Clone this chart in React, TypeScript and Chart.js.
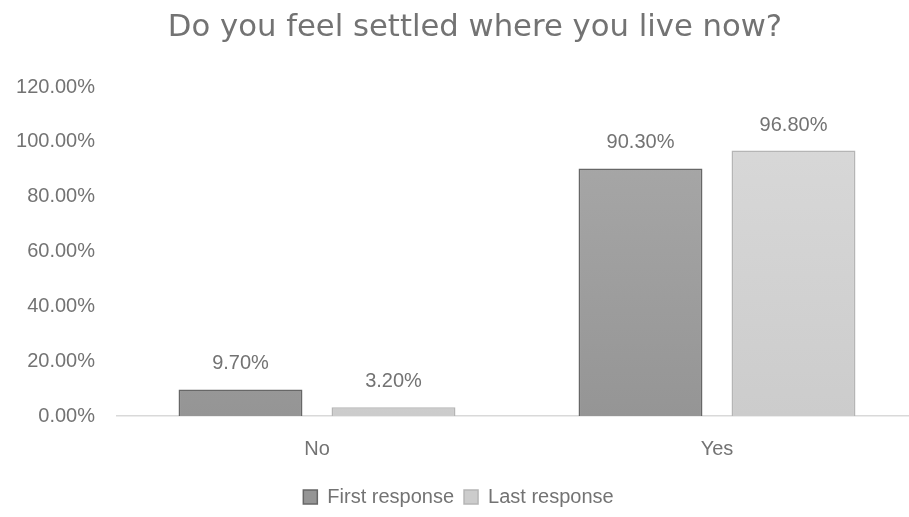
import React, { useEffect, useRef } from "react";
import { Chart, registerables } from "chart.js";

Chart.register(...registerables);

const categories = ["No", "Yes"];
const firstResponse = [9.7, 90.3];
const lastResponse = [3.2, 96.8];
const seriesNames = ["First response", "Last response"];
const titleText = "Do you feel settled where you live now?";
const yMax = 120;
const yStep = 20;

const FONT = "'Liberation Sans', Arial, sans-serif";
const TITLE_FONT = "'DejaVu Sans', sans-serif";
const TXT = "#737373";

const labelPlugin = {
  id: "barLabels",
  afterDatasetsDraw(chart: any) {
    const ctx = chart.ctx;
    ctx.save();
    ctx.font = `20px ${FONT}`;
    ctx.fillStyle = TXT;
    ctx.textAlign = "center";
    ctx.textBaseline = "alphabetic";
    chart.data.datasets.forEach((ds: any, i: number) => {
      const meta = chart.getDatasetMeta(i);
      meta.data.forEach((bar: any, j: number) => {
        ctx.fillText(ds.data[j].toFixed(2) + "%", bar.x, bar.y - 20);
      });
    });
    ctx.restore();
  },
};

// Title centred on the whole (uncropped) chart width
const titlePlugin = {
  id: "centredTitle",
  afterDraw(chart: any) {
    const ctx = chart.ctx;
    ctx.save();
    ctx.font = `30.7px ${TITLE_FONT}`;
    ctx.fillStyle = TXT;
    ctx.textAlign = "center";
    ctx.textBaseline = "alphabetic";
    ctx.fillText(titleText, chart.width / 2, 36);
    ctx.restore();
  },
};

function grad(chart: any, top: string, bottom: string) {
  const area = chart.chartArea;
  if (!area) return top;
  const g = chart.ctx.createLinearGradient(0, area.top, 0, area.bottom);
  g.addColorStop(0, top);
  g.addColorStop(1, bottom);
  return g;
}

export default function App() {
  const ref = useRef<HTMLCanvasElement>(null);
  useEffect(() => {
    const chart = new Chart(ref.current!, {
      type: "bar",
      data: {
        labels: categories,
        datasets: [
          {
            label: seriesNames[0],
            data: firstResponse,
            backgroundColor: (c: any) => grad(c.chart, "#ababab", "#959595"),
            borderColor: "#676767",
            borderWidth: 1.5,
            categoryPercentage: 0.765,
            barPercentage: 0.81,
          },
          {
            label: seriesNames[1],
            data: lastResponse,
            backgroundColor: (c: any) => grad(c.chart, "#dadada", "#cccccc"),
            borderColor: "#b5b5b5",
            borderWidth: 1.5,
            categoryPercentage: 0.765,
            barPercentage: 0.81,
          },
        ],
      },
      options: {
        animation: false,
        responsive: false,
        layout: { padding: { left: 0, right: 33, top: 87, bottom: 0 } },
        scales: {
          x: {
            grid: { display: false, drawTicks: false },
            border: { display: true, color: "#d9d9d9", width: 1.5 },
            ticks: { color: TXT, font: { family: FONT, size: 20 }, padding: 21 },
            afterFit: (s: any) => {
              s.height = 61;
            },
          },
          y: {
            min: 0,
            max: yMax,
            grid: { display: false, drawTicks: false },
            border: { display: false },
            ticks: {
              stepSize: yStep,
              color: TXT,
              font: { family: FONT, size: 20 },
              padding: 22,
              callback: (v: any) => Number(v).toFixed(2) + "%",
            },
            afterFit: (s: any) => {
              s.width = 117;
            },
          },
        },
        plugins: {
          title: { display: false },
          legend: {
            position: "bottom",
            labels: {
              color: TXT,
              font: { family: FONT, size: 20 },
              boxWidth: 14,
              boxHeight: 14,
              padding: 10,
            },
          },
          tooltip: { enabled: false },
        },
      },
      plugins: [labelPlugin, titlePlugin],
    });
    return () => chart.destroy();
  }, []);
  return (
    <div
      style={{
        position: "fixed",
        left: 0,
        top: 0,
        width: 909,
        height: 517,
        overflow: "hidden",
        background: "#fff",
      }}
    >
      <canvas ref={ref} width={950} height={517} />
    </div>
  );
}
